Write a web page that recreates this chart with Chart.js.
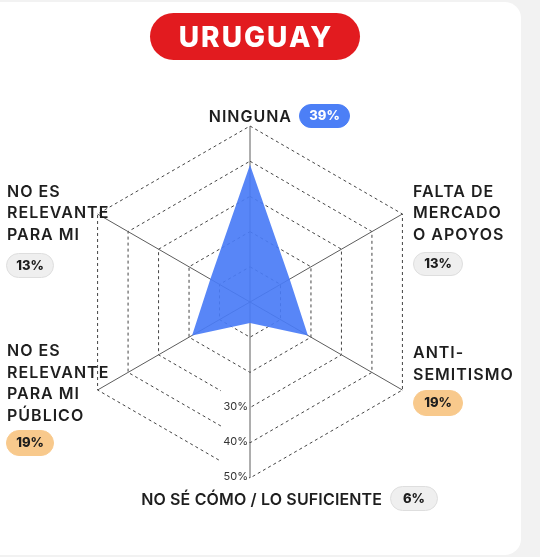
<!DOCTYPE html>
<html>
<head>
<meta charset="utf-8">
<script src="https://cdn.jsdelivr.net/npm/chart.js@4.4.1/dist/chart.umd.min.js"></script>
<style>
  html, body { margin: 0; padding: 0; background: #f2f2f2; }
  #card { position: absolute; left: -20px; top: 2px; width: 541px; height: 553px; background: #fff; border-radius: 16px; }
  #wrap { position: absolute; left: 0; top: 0; width: 540px; height: 557px; }
</style>
</head>
<body>
<div id="card"></div>
<div id="wrap"><canvas id="radar" width="540" height="557"></canvas></div>
<script>
// data
const country = 'URUGUAY';
const categories = [
  ['NINGUNA'],
  ['FALTA DE', 'MERCADO', 'O APOYOS'],
  ['ANTI-', 'SEMITISMO'],
  ['NO SÉ CÓMO / LO SUFICIENTE'],
  ['NO ES', 'RELEVANTE', 'PARA MI', 'PÚBLICO'],
  ['NO ES', 'RELEVANTE', 'PARA MI']
];
const values = [39, 13, 19, 6, 19, 13];
const tickValues = [30, 40, 50];

const FONT = 'Inter, "Noto Sans", sans-serif';
const pillColors = {
  blue: { bg: '#4c7ff6', border: '#4c7ff6', text: '#ffffff' },
  orange: { bg: '#f8c98c', border: '#f8c98c', text: '#1d1d1d' },
  gray: { bg: '#efefef', border: '#dedede', text: '#1d1d1d' }
};

// label placement: text anchor (first baseline), letter spacing and pill box
const labelLayout = [
  { x: 291, y: 121.7, align: 'right', spacing: 1, pill: { x: 299, y: 104, w: 50, h: 23, tone: 'blue' } },
  { x: 413, y: 196.7, align: 'left', spacing: 1, pill: { x: 413, y: 252, w: 49, h: 23, tone: 'gray' } },
  { x: 413, y: 358, align: 'left', spacing: 1, pill: { x: 413, y: 390, w: 49, h: 25, tone: 'orange' } },
  { x: 382, y: 505, align: 'right', spacing: 0.15, pill: { x: 390, y: 486, w: 47, h: 24, tone: 'gray' } },
  { x: 7, y: 356, align: 'left', spacing: 1, pill: { x: 6, y: 430, w: 47, h: 25, tone: 'orange' } },
  { x: 7, y: 196.7, align: 'left', spacing: 1, pill: { x: 6, y: 253, w: 47, h: 24, tone: 'gray' } }
];
const lineGap = 21.7;

function pill(ctx, x, y, w, h, fill, stroke) {
  ctx.beginPath();
  ctx.roundRect(x, y, w, h, h / 2);
  ctx.fillStyle = fill;
  ctx.fill();
  if (stroke) {
    ctx.strokeStyle = stroke;
    ctx.lineWidth = 1;
    ctx.stroke();
  }
}

const decorPlugin = {
  id: 'decor',
  afterDatasetsDraw(chart) {
    const ctx = chart.ctx;
    const r = chart.scales.r;
    ctx.save();

    // tick labels along the bottom axis, with a white backdrop on the left
    ctx.font = '11px ' + FONT;
    ctx.textAlign = 'right';
    ctx.textBaseline = 'middle';
    tickValues.forEach(v => {
      const y = r.yCenter + r.getDistanceFromCenterForValue(v);
      ctx.fillStyle = '#ffffff';
      ctx.fillRect(r.xCenter - 29, y - 19, 28, 27);
      ctx.fillStyle = '#333333';
      ctx.fillText(v + '%', r.xCenter - 2, y - 1);
    });

    // category labels with value pills
    categories.forEach((lines, i) => {
      const lay = labelLayout[i];
      ctx.textBaseline = 'alphabetic';
      ctx.font = '600 16px ' + FONT;
      ctx.letterSpacing = lay.spacing + 'px';
      ctx.fillStyle = '#1e1e1e';
      ctx.textAlign = lay.align;
      const shift = lay.align === 'right' ? lay.spacing : 0;
      lines.forEach((t, k) => ctx.fillText(t, lay.x + shift, lay.y + k * lineGap));

      const p = lay.pill;
      const c = pillColors[p.tone];
      pill(ctx, p.x + 0.5, p.y + 0.5, p.w, p.h, c.bg, c.border);
      ctx.letterSpacing = '0px';
      ctx.font = '800 13px ' + FONT;
      ctx.fillStyle = c.text;
      ctx.textAlign = 'center';
      ctx.textBaseline = 'middle';
      ctx.fillText(values[i] + '%', p.x + p.w / 2 + 0.5, p.y + p.h / 2 + 1);
    });

    // title pill
    pill(ctx, 150, 13, 210, 47, '#e21b1f');
    ctx.textBaseline = 'alphabetic';
    ctx.letterSpacing = '2px';
    ctx.font = '800 28px ' + FONT;
    ctx.fillStyle = '#ffffff';
    ctx.textAlign = 'center';
    ctx.fillText(country, 256, 46.5);

    ctx.restore();
  }
};

new Chart(document.getElementById('radar'), {
  type: 'radar',
  data: {
    labels: categories,
    datasets: [{
      data: values,
      backgroundColor: 'rgba(74, 124, 246, 0.92)',
      borderWidth: 0,
      pointRadius: 0,
      fill: true
    }]
  },
  options: {
    responsive: false,
    animation: false,
    layout: { padding: { left: 74, top: 126, right: 114, bottom: 79 } },
    plugins: { legend: { display: false }, tooltip: { enabled: false } },
    elements: { line: { tension: 0 } },
    scales: {
      r: {
        min: 0,
        max: 50,
        startAngle: 0,
        ticks: { stepSize: 10, display: false },
        pointLabels: { display: false },
        grid: { color: '#444444', lineWidth: 1 },
        border: { dash: [3, 3] },
        angleLines: { color: '#5c5c5c', lineWidth: 1 }
      }
    }
  },
  plugins: [decorPlugin]
});
</script>
</body>
</html>
